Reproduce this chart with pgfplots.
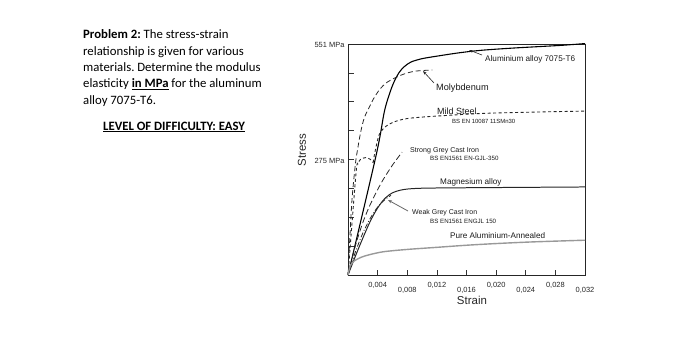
\documentclass[border=0pt]{standalone}
\usepackage{fontspec}
\usepackage{pgfplots}
\pgfplotsset{compat=1.18}
\usetikzlibrary{arrows.meta}
\newfontfamily\calibri{Carlito}
\newfontfamily\arial{Liberation Sans}
\frenchspacing
\begin{document}
\begin{tikzpicture}[x=1bp,y=1bp]
\path[use as bounding box] (0,0) rectangle (700,352);
\begin{scope}[every node/.style={anchor=base west, inner sep=0pt, font=\calibri\fontsize{12.8}{16}\selectfont\frenchspacing}]
\node at (83,313.5) {\textbf{Problem 2:} The stress-strain};
\node at (83,297) {relationship is given for various};
\node at (83,281) {materials. Determine the modulus};
\node at (83,264.5) {elasticity \underline{\textbf{in MPa}} for the aluminum};
\node at (83,248) {alloy 7075-T6.};
\node at (103,222) {\underline{\textbf{LEVEL OF DIFFICULTY: EASY}}};
\end{scope}
\begin{axis}[
  at={(348bp,77bp)}, anchor=south west,
  width=237bp, height=231bp, scale only axis,
  xmin=0, xmax=0.032, ymin=0, ymax=551,
  axis line style={black!85, line width=0.6pt},
  tick align=inside, major tick length=5.5bp,
  tick style={black!80, line width=0.6pt},
  xtick pos=bottom, ytick pos=left,
  scaled x ticks=false, scaled y ticks=false,
  xtick={0.004,0.008,0.012,0.016,0.020,0.024,0.028,0.032},
  xticklabels={{0,004},{\raisebox{-5bp}{0,008}},{0,012},{\raisebox{-5bp}{0,016}},{0,020},{\raisebox{-5bp}{0,024}},{0,028},{\raisebox{-5bp}{0,032}}},
  xticklabel style={anchor=base, yshift=-12.5bp, font=\arial\fontsize{7.5}{8}\selectfont, text=black!85},
  ytick={68.875,137.75,206.625,275.5,344.375,413.25,482.125,551},
  yticklabels={,,,{275 MPa},,,,{551 MPa}},
  yticklabel style={font=\arial\fontsize{7.5}{8}\selectfont, text=black!85, yshift=-1bp},
  xlabel={Strain}, ylabel={Stress},
  xlabel style={at={(axis description cs:0.523,-0.111)}, anchor=center, font=\arial\fontsize{11.5}{12}\selectfont, text=black!85},
  ylabel style={at={(axis description cs:-0.194,0.541)}, anchor=center, font=\arial\fontsize{11.5}{12}\selectfont, text=black!85},
  clip=false,
]
% Aluminium alloy 7075-T6
\addplot[black, line width=1.1pt, smooth, tension=0.5] coordinates {(0,0)(0.0038,286)(0.0049,389)(0.0056,432)(0.0062,460)(0.0069,483)(0.0076,497)(0.0085,508)(0.0100,516)(0.0120,522)(0.0150,530)(0.0180,536)(0.0220,541)(0.0260,545)(0.0290,548)(0.0320,552)};
% Molybdenum
\addplot[black!85, line width=0.8pt, dash pattern=on 5bp off 3bp, smooth, tension=0.5] coordinates {(0,0)(0.0005,170)(0.0010,265)(0.0013,300)(0.0017,340)(0.0022,375)(0.0030,405)(0.0035,422)(0.0043,443)(0.0053,460)(0.0072,477)(0.0090,486)(0.0114,489)};
% Mild steel
\addplot[black!85, line width=0.9pt, dash pattern=on 3bp off 2.5bp, smooth, tension=0.5] coordinates {(0,0)(0.00108,243)(0.00135,265)(0.0017,276)(0.0024,280)(0.0030,276)(0.0034,268)};
\addplot[black!85, line width=0.9pt, dash pattern=on 3bp off 2.5bp, smooth, tension=0.5] coordinates {(0.0034,268)(0.0036,290)(0.0042,334)(0.0050,353)(0.0062,365)(0.0076,372)(0.0089,375)(0.0119,379)(0.0191,386)(0.0320,391)};
% Strong grey cast iron
\addplot[black!85, line width=0.8pt, dash pattern=on 6bp off 3bp, smooth, tension=0.5] coordinates {(0,0)(0.001,70)(0.002,125)(0.003,168)(0.0045,220)(0.006,262)(0.0073,293)};
% Magnesium alloy
\addplot[black!85, line width=1pt, smooth, tension=0.5] coordinates {(0,0)(0.001,45)(0.002,88)(0.003,128)(0.004,160)(0.005,183)(0.006,196)(0.007,202)(0.008,205)(0.010,207)(0.015,208)(0.032,210)};
% Weak grey cast iron
\addplot[black!85, line width=0.8pt, dash pattern=on 5bp off 2bp on 1bp off 2bp, smooth, tension=0.5] coordinates {(0,0)(0.001,55)(0.002,100)(0.003,135)(0.004,162)(0.005,180)(0.0058,190)};
% Pure aluminium annealed
\addplot[black!40, line width=1.4pt, smooth, tension=0.5] coordinates {(0,0)(0.0003,22)(0.0008,33)(0.0015,40)(0.0022,45)(0.0035,51)(0.005,56)(0.008,61)(0.012,66)(0.016,71)(0.020,75)(0.025,79)(0.032,83)};
\end{axis}
\begin{scope}[every node/.style={anchor=west, inner sep=0pt, text=black!90}]
\node[font=\arial\fontsize{8.2}{9}\selectfont] at (485,293) {Aluminium alloy 7075-T6};
\node[font=\arial\fontsize{9.2}{10}\selectfont] at (436,264) {Molybdenum};
\node[font=\arial\fontsize{9}{10}\selectfont] at (437,241) {Mild Steel};
\node[font=\arial\fontsize{6}{7}\selectfont] at (452,231) {BS EN 10087 11SMn30};
\node[font=\arial\fontsize{7.1}{8}\selectfont] at (410,201) {Strong Grey Cast Iron};
\node[font=\arial\fontsize{6.2}{7}\selectfont] at (430,194) {BS EN1561 EN-GJL-350};
\node[font=\arial\fontsize{8.2}{9}\selectfont] at (440,170) {Magnesium alloy};
\node[font=\arial\fontsize{7}{8}\selectfont] at (412,139) {Weak Grey Cast Iron};
\node[font=\arial\fontsize{6.2}{7}\selectfont] at (430,131) {BS EN1561 ENGJL 150};
\node[font=\arial\fontsize{8.2}{9}\selectfont] at (450,116) {Pure Aluminium-Annealed};
\end{scope}
\draw[black!85, line width=0.6pt, -{Stealth[length=4bp,width=3bp]}] (482,297) -- (469,302);
\draw[black!85, line width=0.6pt, -{Stealth[length=4bp,width=3bp]}] (434,269) -- (423,281);
\draw[black!60, line width=0.8pt, -{Stealth[length=4bp,width=3bp]}] (408,141) -- (388,152);
\end{tikzpicture}
\end{document}
